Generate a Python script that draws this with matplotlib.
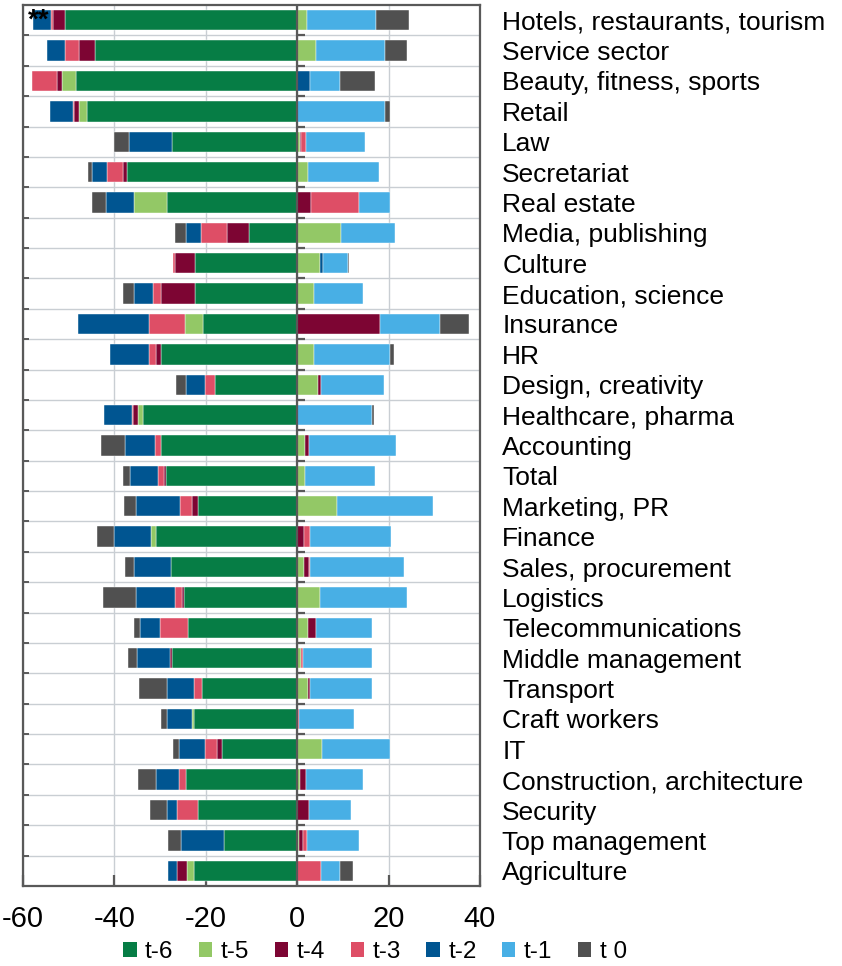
import matplotlib
matplotlib.use("Agg")
import matplotlib.pyplot as plt
import numpy as np
from matplotlib.patches import Patch

plt.rcParams['font.family'] = ['Liberation Sans', 'DejaVu Sans']

categories = ["Hotels, restaurants, tourism", "Service sector", "Beauty, fitness, sports",
              "Retail", "Law", "Secretariat", "Real estate", "Media, publishing", "Culture",
              "Education, science", "Insurance", "HR", "Design, creativity",
              "Healthcare, pharma", "Accounting", "Total", "Marketing, PR", "Finance",
              "Sales, procurement", "Logistics", "Telecommunications", "Middle management",
              "Transport", "Craft workers", "IT", "Construction, architecture", "Security",
              "Top management", "Agriculture"]

series_names = ["t-6", "t-5", "t-4", "t-3", "t-2", "t-1", "t 0"]

t6 = [-50.9, -44.3, -48.5, -46.1, -27.4, -37.2, -28.5, -10.5, -22.4, -22.4, -20.6, -29.7,
      -17.9, -33.7, -29.7, -28.8, -21.6, -30.9, -27.7, -24.7, -23.9, -27.5, -20.8, -22.5,
      -16.4, -24.4, -21.7, -16.1, -22.5]
t5 = [2.2, 4.2, -2.9, -1.7, 0.6, 2.3, -7.2, 9.6, 5.0, 3.7, -3.9, 3.6, 4.6, -1.2, 1.7, 1.7,
      8.8, -1.2, 1.4, 4.9, 2.3, 0.8, 2.4, -0.5, 5.4, 0.7, 0.0, 0.3, -1.6]
t4 = [-2.6, -3.4, -1.1, -1.1, 0.3, -1.0, 3.1, -4.8, -4.3, -7.3, 18.1, -1.2, 0.7, -1.1, 0.9,
      -0.4, -1.4, 1.5, 1.1, -0.4, 1.8, -0.4, 0.5, 0.0, -1.2, 1.2, 2.5, 0.9, -2.2]
t3 = [-0.4, -3.2, -5.5, -0.2, 1.0, -3.4, 10.4, -5.7, -0.5, -1.8, -7.9, -1.5, -2.2, -0.15,
      -1.5, -1.2, -2.6, 1.3, 0.2, -1.7, -6.2, 0.5, -1.8, 0.3, -2.6, -1.4, -4.5, 1.0, 5.3]
t2 = [-4.0, -3.8, 2.9, -5.1, -9.3, -3.3, -6.2, -3.3, 0.7, -4.2, -15.5, -8.5, -4.2, -6.1,
      -6.4, -6.1, -9.6, -8.0, -8.0, -8.5, -4.3, -7.2, -5.8, -5.5, -5.6, -5.1, -2.2, -9.3, -2.0]
t1 = [15.1, 15.0, 6.4, 19.2, 12.9, 15.7, 6.9, 11.7, 5.5, 10.7, 13.1, 16.6, 13.6, 16.4, 19.0,
      15.3, 20.9, 17.7, 20.6, 19.1, 12.2, 15.0, 13.4, 12.1, 14.9, 12.4, 9.3, 11.4, 4.1]
t0 = [7.2, 4.8, 7.7, 1.1, -3.4, -0.8, -3.1, -2.5, 0.15, -2.5, 6.4, 0.9, -2.2, 0.5, -5.3,
      -1.6, -2.6, -3.6, -2.0, -7.1, -1.4, -2.0, -6.3, -1.3, -1.4, -4.0, -3.8, -2.8, 2.9]

colors = ["#067D45", "#93C866", "#7D0533", "#DE4E66", "#005591", "#48AFE5", "#505050"]
xticks = [-60, -40, -20, 0, 20, 40]

fig = plt.figure(figsize=(8.42, 9.66), dpi=100)
ax = fig.add_axes([23/842, 1 - 886/966, (480 - 23)/842, (886 - 5)/966])

y = np.arange(len(categories))
pos_cum = np.zeros(len(categories))
neg_cum = np.zeros(len(categories))
for name, vals, c in zip(series_names, [t6, t5, t4, t3, t2, t1, t0], colors):
    v = np.array(vals, dtype=float)
    left = np.where(v >= 0, pos_cum, neg_cum)
    ax.barh(y, v, left=left, height=0.67, color=c, edgecolor="white", linewidth=0.3,
            label=name, zorder=3)
    pos_cum += np.where(v >= 0, v, 0)
    neg_cum += np.where(v < 0, v, 0)

ax.set_xlim(-60, 40)
ax.set_ylim(len(categories) - 0.5, -0.5)

spine_col = "#595959"
for s in ax.spines.values():
    s.set_color(spine_col)
    s.set_linewidth(1.6)

# zero line
ax.axvline(0, color=spine_col, lw=1.6, zorder=4)
bounds = np.arange(len(categories) - 1) + 0.5
ax.hlines(bounds, 0, 1.7, color=spine_col, lw=1.6, zorder=4)

ax.set_xticks(xticks)
ax.set_xticklabels([str(t) for t in xticks], fontsize=21)
ax.tick_params(axis='x', direction='in', length=8, width=1.6, color=spine_col, pad=14)

ax.set_yticks(y)
ax.set_yticklabels(categories, fontsize=19)
ax.yaxis.tick_right()
ax.tick_params(axis='y', which='major', length=0, pad=16, right=False, left=False)
ax.set_yticks(bounds, minor=True)
ax.tick_params(axis='y', which='minor', left=True, right=False, direction='in',
               length=4, width=1.4, color=spine_col)

ax.grid(axis='x', which='major', color="#C9CED3", lw=1.0, zorder=0)
ax.grid(axis='y', which='minor', color="#C9CED3", lw=1.0, zorder=0)
ax.set_axisbelow(True)

ax.text(-59.0, 0.0, "**", fontsize=20, fontweight='bold', ha='left', va='center', zorder=6)

handles = [Patch(facecolor=c, edgecolor='none', label=n) for n, c in zip(series_names, colors)]
fig.legend(handles=handles, loc='center', bbox_to_anchor=(375/842, 1 - 952/966), ncol=7,
           frameon=False, fontsize=17.5, handlelength=0.55, handleheight=0.55,
           handletextpad=0.35, columnspacing=1.05, borderaxespad=0, borderpad=0)

fig.savefig("out.png", dpi=100)
